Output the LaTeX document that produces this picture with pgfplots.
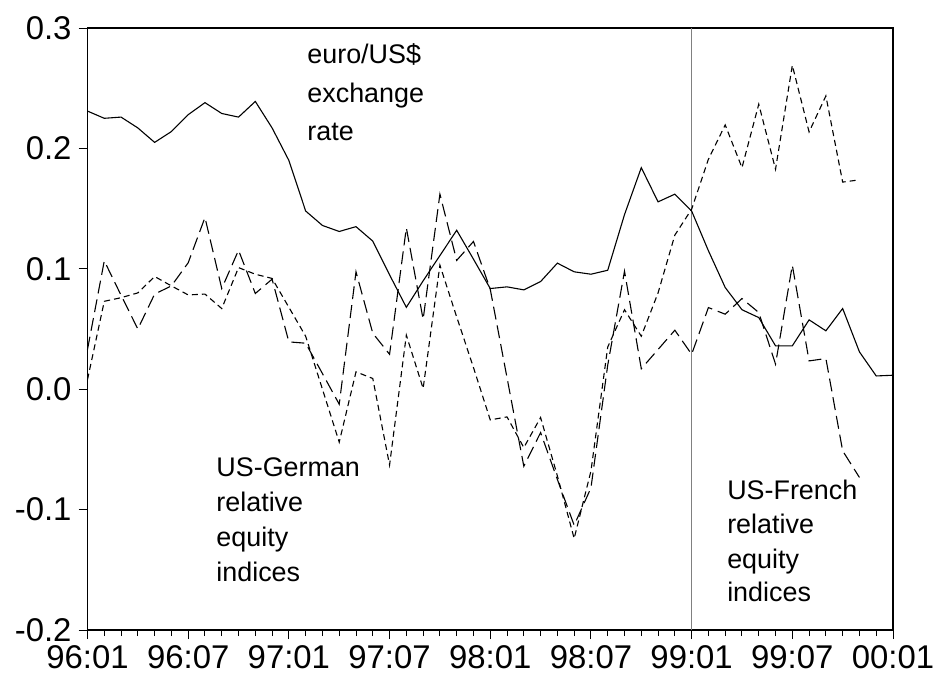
\documentclass[border=0pt]{standalone}
\usepackage{fontspec}
\setmainfont{Liberation Sans}
\usepackage{pgfplots}
\pgfplotsset{compat=1.18}
\begin{document}
\begin{tikzpicture}
\useasboundingbox (0,0) rectangle (468bp,341bp);
\begin{axis}[
  at={(43.75bp,26bp)}, anchor=south west,
  scale only axis, width=402.75bp, height=301bp,
  xmin=0, xmax=48, ymin=-0.2, ymax=0.3,
  axis line style={black, line width=0.6bp},
  xtick={0,6,...,48},
  xticklabels={96:01,96:07,97:01,97:07,98:01,98:07,99:01,99:07,00:01},
  minor xtick={0,...,48},
  ytick={-0.2,-0.1,0,0.1,0.2,0.3},
  yticklabels={-0.2,-0.1,0.0,0.1,0.2,0.3},
  tick align=outside, xtick pos=bottom, ytick pos=left,
  major tick length=4.5bp, minor tick length=3bp,
  tick style={black, line width=0.5bp},
  ticklabel style={font=\fontsize{16.5}{19}\selectfont},
  clip=false,
]
\addplot[gray, line width=0.6bp] coordinates {(36,-0.2) (36,0.3)};
% euro/US$ exchange rate
\addplot[black, line width=0.55bp] coordinates {
(0,0.231)(1,0.225)(2,0.226)(3,0.217)(4,0.205)(5,0.214)(6,0.228)(7,0.238)(8,0.229)(9,0.226)
(10,0.239)(11,0.217)(12,0.190)(13,0.148)(14,0.136)(15,0.131)(16,0.135)(17,0.123)(18,0.095)(19,0.068)
(20,0.090)(21,0.111)(22,0.132)(23,0.108)(24,0.0836)(25,0.085)(26,0.0825)(27,0.0894)(28,0.1047)(29,0.0975)
(30,0.0955)(31,0.0988)(32,0.145)(33,0.184)(34,0.1556)(35,0.162)(36,0.148)(37,0.115)(38,0.0845)(39,0.066)
(40,0.0595)(41,0.036)(42,0.036)(43,0.0576)(44,0.0485)(45,0.067)(46,0.031)(47,0.011)(48,0.0116)};
% long dashed
\addplot[black, line width=0.55bp, dash pattern=on 6.5bp off 3bp] coordinates {
(0,0.033)(1,0.1066)(2,0.078)(3,0.050)(4,0.079)(5,0.0858)(6,0.105)(7,0.1426)(8,0.0836)(9,0.1154)
(10,0.0795)(11,0.0914)(12,0.0393)(13,0.0382)(14,0.013)(15,-0.0125)(16,0.0975)(17,0.0465)(18,0.029)(19,0.134)
(20,0.058)(21,0.162)(22,0.107)(23,0.1227)(24,0.083)(25,0.0095)(26,-0.064)(27,-0.036)(28,-0.075)(29,-0.113)
(30,-0.082)(31,0.020)(32,0.098)(33,0.017)(34,0.033)(35,0.049)(36,0.029)(37,0.0678)(38,0.0623)(39,0.0753)
(40,0.0637)(41,0.0208)(42,0.103)(43,0.0235)(44,0.0255)(45,-0.0512)(46,-0.0733)};
% short dashed
\addplot[black, line width=0.55bp, dash pattern=on 3bp off 2bp] coordinates {
(0,0.008)(1,0.073)(2,0.076)(3,0.080)(4,0.0936)(5,0.0858)(6,0.0783)(7,0.079)(8,0.067)(9,0.101)
(10,0.0955)(11,0.092)(12,0.068)(13,0.044)(14,0.000)(15,-0.044)(16,0.0144)(17,0.0089)(18,-0.063)(19,0.0449)
(20,0.0006)(21,0.103)(22,0.060)(23,0.018)(24,-0.0255)(25,-0.023)(26,-0.0485)(27,-0.0235)(28,-0.072)(29,-0.124)
(30,-0.068)(31,0.035)(32,0.066)(33,0.044)(34,0.080)(35,0.128)(36,0.1495)(37,0.191)(38,0.2195)(39,0.184)
(40,0.2367)(41,0.1827)(42,0.269)(43,0.2137)(44,0.2436)(45,0.172)(46,0.1739)};
% annotations
\begin{scope}[every node/.style={anchor=base west, inner sep=0pt, font=\fontsize{13.5}{16}\selectfont}]
\node at (axis cs:13.08,0.2708) {euro/US\$};
\node at (axis cs:13.08,0.2384) {exchange};
\node at (axis cs:13.08,0.2068) {rate};
\node at (axis cs:7.66,-0.0723) {US-German};
\node at (axis cs:7.66,-0.1013) {relative};
\node at (axis cs:7.66,-0.1304) {equity};
\node at (axis cs:7.66,-0.1595) {indices};
\node at (axis cs:38.1,-0.0914) {US-French};
\node at (axis cs:38.1,-0.1196) {relative};
\node at (axis cs:38.1,-0.1487) {equity};
\node at (axis cs:38.1,-0.1761) {indices};
\end{scope}
\end{axis}
\end{tikzpicture}
\end{document}
